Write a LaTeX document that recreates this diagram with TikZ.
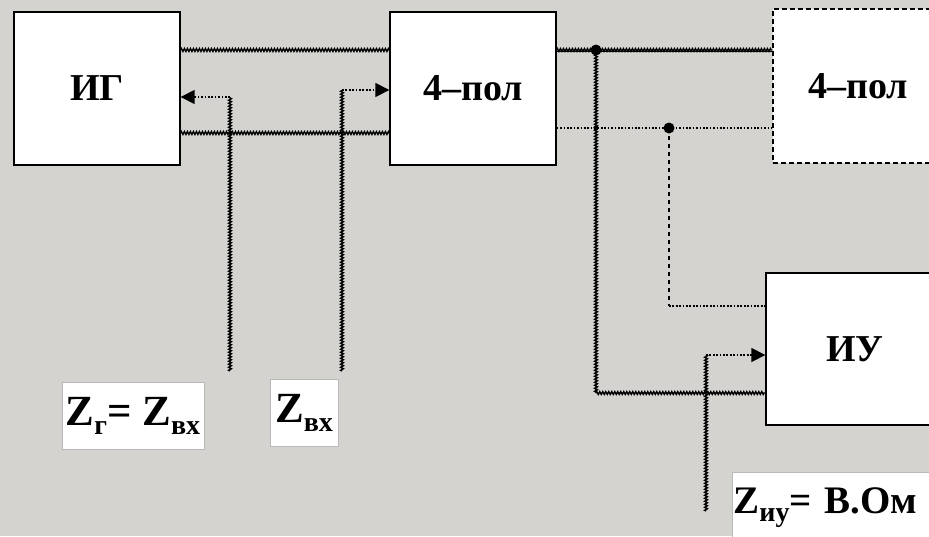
\documentclass[tikz,border=0pt]{standalone}
\usepackage{fontspec}
\setmainfont{Liberation Serif}
\usetikzlibrary{arrows.meta,decorations.pathmorphing}
\definecolor{bg}{RGB}{212,211,208}
\newcommand{\lowsub}[1]{\raisebox{-0.22em}{\fontsize{28}{28}\selectfont #1}}
\begin{document}
\begin{tikzpicture}[x=1pt,y=-1pt,
 box/.style={draw, fill=white, line width=1.4pt, inner sep=0pt, font=\fontsize{38}{40}\selectfont\bfseries},
 lbl/.style={draw=gray!55, fill=white, line width=0.8pt, inner sep=0pt, font=\fontsize{43}{46}\selectfont\bfseries},
 wavy/.style={line width=1.4pt, decorate, decoration={zigzag, segment length=3pt, amplitude=1.4pt}},
 dotl/.style={line width=1.7pt, dash pattern=on 1.7pt off 1.7pt},
 dashl/.style={line width=1.6pt, dash pattern=on 4pt off 4pt},
 tip/.style={-{Triangle[length=14pt,width=14pt]}},
 jdot/.style={circle, fill, inner sep=0pt, minimum size=11pt},
 sdot/.style={circle, fill, inner sep=0pt, minimum size=5pt}]

\fill[bg] (0,0) rectangle (929,536);
\useasboundingbox (0,0) rectangle (929,536);

% blocks
\node[box, minimum width=166pt, minimum height=153pt] (ig) at (97,88.5) {ИГ\hspace{14pt}};
\node[box, minimum width=166pt, minimum height=153pt] (q1) at (473,88.5) {4–пол};
\node[box, dash pattern=on 5pt off 3pt, minimum width=170pt, minimum height=154pt] (q2) at (858,86) {4–пол};
\node[box, minimum width=164pt, minimum height=152pt] (iu) at (848,349) {\hspace{14pt}ИУ};

% labels
\node[lbl, minimum width=142pt, minimum height=67pt] (lg) at (133,416) {Z\lowsub{г}= Z\lowsub{вх}};
\node[lbl, minimum width=68pt, minimum height=67pt] (lv) at (304,413) {Z\lowsub{вх}};
\node[lbl, font=\fontsize{39}{42}\selectfont\bfseries, text width=202pt, align=left, minimum height=70pt, anchor=north west, inner xsep=1pt] (lu) at (732,472) {Z\lowsub{иу}= В.Ом};

% helper coordinates
\coordinate (yt) at (0,50);
\coordinate (yb) at (0,133);
\coordinate (yb2) at (0,128);
\coordinate (e1) at (230,371);
\coordinate (c1) at (230,97);
\coordinate (e2) at (342,371);
\coordinate (c2) at (342,90);
\coordinate (v1) at (596,393);
\coordinate (v2) at (669,306);
\coordinate (e3) at (706,511);
\coordinate (c3) at (706,355);

% ИГ -- 4-пол
\draw[wavy] (ig.east |- yt) -- (q1.west |- yt);
\draw[wavy] (ig.east |- yb) -- (q1.west |- yb);

% input impedance arrows
\draw[wavy] (e1) -- (c1);
\draw[dotl, tip] (c1) -- (ig.east |- c1);
\draw[wavy] (e2) -- (c2);
\draw[dotl, tip] (c2) -- (q1.west |- c2);

% 4-пол -- 4-пол
\node[jdot] (j1) at (596,50) {};
\node[jdot] (j2) at (669,128) {};
\node[sdot] (j3) at (596,128) {};
\draw[wavy] (q1.east |- yt) -- (q2.west |- yt);
\draw[line width=1.8pt] ([yshift=-1.5pt]q1.east |- yt) -- ([yshift=-1.5pt]q2.west |- yt);
\draw[dotl] (q1.east |- yb2) -- (q2.west |- yb2);

% branches to ИУ
\draw[wavy] (j1.center) -- (v1);
\draw[wavy] (v1) -- (iu.west |- v1);
\draw[dashl] (j2.center) -- (v2);
\draw[dotl] (v2) -- (iu.west |- v2);
\draw[wavy] (e3) -- (c3);
\draw[dotl, tip] (c3) -- (iu.west |- c3);
\end{tikzpicture}
\end{document}
